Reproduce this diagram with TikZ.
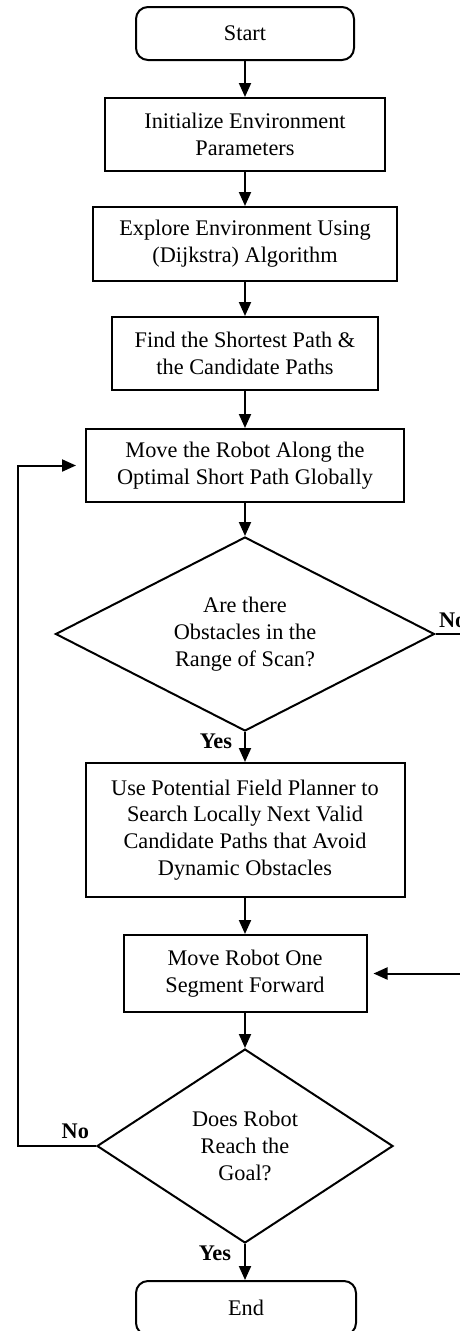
\documentclass[tikz,border=0pt]{standalone}
\usepackage{fontspec}
\setmainfont{Liberation Serif}
\usetikzlibrary{arrows.meta,shapes.geometric}
\begin{document}
\begin{tikzpicture}[x=1pt,y=-1pt,
  font=\fontsize{22.3}{26.8}\selectfont, line width=2pt,
  box/.style={draw, rectangle, align=center, inner sep=0pt},
  term/.style={draw, rectangle, rounded corners=12pt, align=center, inner sep=0pt},
  dec/.style={draw, diamond, aspect=2, inner sep=0pt, align=center},
  arr/.style={-{Triangle[length=14pt,width=12pt]}},
  lbl/.style={font=\fontsize{22.3}{26.8}\selectfont\bfseries, inner sep=0pt}]
\useasboundingbox (0,0) rectangle (460,1331);
\clip (0,0) rectangle (460,1331);
\node[term, minimum width=218, minimum height=53] (start) at (245,33.5) {Start};
\node[box, minimum width=280, minimum height=73] (init) at (245,134.5) {Initialize Environment\\Parameters};
\node[box, minimum width=304, minimum height=74] (explore) at (245,244) {Explore Environment Using\\(Dijkstra) Algorithm};
\node[box, minimum width=266, minimum height=73] (find) at (245,353.5) {Find the Shortest Path \&\\the Candidate Paths};
\node[box, minimum width=318, minimum height=73] (move) at (245,465.5) {Move the Robot Along the\\Optimal Short Path Globally};
\node[dec, minimum width=379, minimum height=194] (dec1) at (245,634) {Are there\\Obstacles in the\\Range of Scan?};
\node[box, minimum width=319, minimum height=134] (use) at (245,830) {Use Potential Field Planner to\\Search Locally Next Valid\\Candidate Paths that Avoid\\Dynamic Obstacles};
\node[box, minimum width=243, minimum height=77] (one) at (245,973.5) {Move Robot One\\Segment Forward};
\node[dec, minimum width=296, minimum height=194] (dec2) at (245,1146) {Does Robot\\Reach the\\Goal?};
\node[term, minimum width=220, minimum height=54] (end) at (246,1308) {End};

\draw[arr] (start) -- (init);
\draw[arr] (init) -- (explore);
\draw[arr] (explore) -- (find);
\draw[arr] (find) -- (move);
\draw[arr] (move) -- (dec1);
\draw[arr] (dec1) -- (use);
\draw[arr] (use) -- (one);
\draw[arr] (one) -- (dec2);
\draw[arr] (dec2.south) -- (dec2.south |- end.north);

\coordinate (lp) at (18,1146);
\draw[arr, shorten >=9pt] (dec2.west) -- (lp) |- (move.west);
\coordinate (rp) at (480,634);
\draw[arr, shorten >=6pt] (dec1.east) -- (rp) |- (one.east);

\node[lbl, anchor=base west] (no1) at (438,627) {No};
\node[lbl, anchor=base east] (no2) at (90,1138) {No};
\node[lbl, anchor=base east] (yes1) at (233,748) {Yes};
\node[lbl, anchor=base east] (yes2) at (232,1260) {Yes};
\end{tikzpicture}
\end{document}
